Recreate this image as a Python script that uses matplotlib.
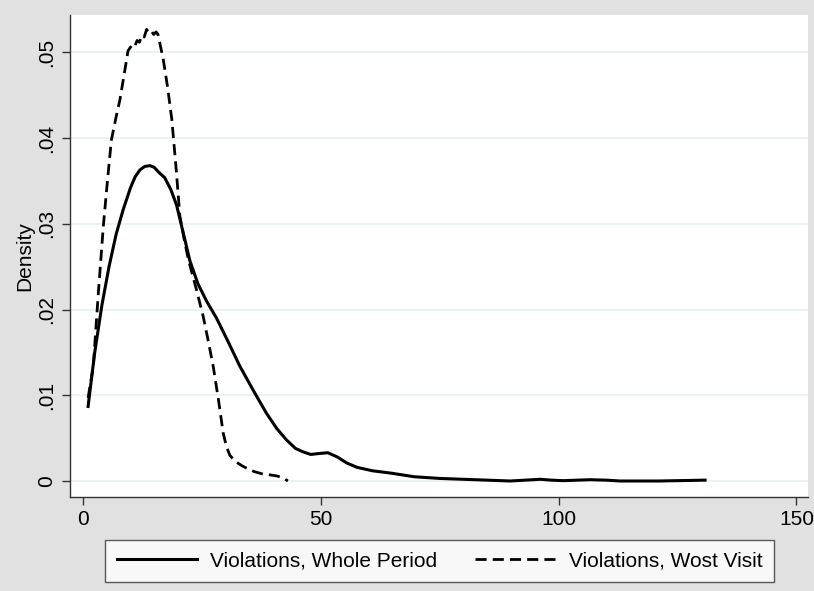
import matplotlib
matplotlib.use("Agg")
import matplotlib.pyplot as plt

# kernel density, violations over the whole period
whole_x = [1.1, 2.5, 4.0, 5.5, 7.0, 8.5, 10.0, 11.0, 12.0, 13.0, 14.1, 15.0, 16.0, 17.2, 18.5,
           19.7, 21.0, 22.5, 24.2, 26.0, 28.1, 30.5, 33.0, 35.8, 38.6, 40.8, 42.8, 44.7, 46.3,
           47.9, 49.5, 51.5, 53.5, 55.5, 57.6, 60.8, 65.0, 69.6, 75.0, 80.0, 85.0, 89.8, 93.0,
           96.2, 98.5, 101.0, 104.0, 106.7, 110.0, 113.0, 117.0, 121.0, 126.0, 130.8]
whole_y = [0.0087, 0.0150, 0.0205, 0.0250, 0.0288, 0.0317, 0.0342, 0.0355, 0.0363, 0.0367, 0.0368,
           0.0366, 0.0360, 0.0354, 0.0340, 0.0322, 0.0292, 0.0257, 0.0230, 0.0210, 0.0190, 0.0163,
           0.0134, 0.0106, 0.0079, 0.0061, 0.0048, 0.0038, 0.0034, 0.0031, 0.0032, 0.0033, 0.0028,
           0.0021, 0.0016, 0.0012, 0.0009, 0.0005, 0.0003, 0.0002, 0.0001, 0.0000, 0.0001, 0.0002,
           0.0001, 0.00004, 0.0001, 0.00015, 0.0001, 0.0000, 0.0000, 0.0000, 0.00005, 0.0001]

# kernel density, violations at the worst visit
worst_x = [1.1, 2.2, 3.2, 4.3, 5.2, 6.0, 7.0, 7.8, 8.7, 9.5, 10.0, 10.4, 10.9, 11.4, 11.9, 12.4,
           12.9, 13.4, 13.9, 14.4, 14.9, 15.4, 15.8, 16.9, 17.8, 18.7, 19.6, 20.4, 21.3, 22.2,
           23.8, 25.3, 26.3, 27.4, 28.5, 29.5, 30.2, 30.9, 32.0, 33.4, 34.4, 36.0, 37.9, 39.5,
           40.7, 42.0, 43.1]
worst_y = [0.0097, 0.0134, 0.0215, 0.0297, 0.0352, 0.0398, 0.0425, 0.0445, 0.0475, 0.0502, 0.0506,
           0.0509, 0.0507, 0.0514, 0.0512, 0.0520, 0.0518, 0.0527, 0.0523, 0.0525, 0.0521, 0.0524,
           0.0521, 0.0492, 0.0460, 0.0422, 0.0365, 0.0309, 0.0282, 0.0258, 0.0225, 0.0192, 0.0165,
           0.0134, 0.0095, 0.0056, 0.0040, 0.0030, 0.0023, 0.0018, 0.0015, 0.0011, 0.0008, 0.0007,
           0.0006, 0.0004, 0.0000]

labels = ["Violations, Whole Period", "Violations, Wost Visit"]
xticks = [0, 50, 100, 150]
yticks = [0, 0.01, 0.02, 0.03, 0.04, 0.05]
ytick_labels = ["0", ".01", ".02", ".03", ".04", ".05"]

plt.rcParams['font.family'] = ['Liberation Sans', 'DejaVu Sans']
bg = '#e1e1e1'

fig = plt.figure(figsize=(8.14, 5.91), dpi=100, facecolor=bg)
ax = fig.add_axes([0.086, 0.159, 0.907, 0.816])
ax.set_facecolor('white')

l1, = ax.plot(whole_x, whole_y, color='black', lw=2.2, solid_joinstyle='round')
l2, = ax.plot(worst_x, worst_y, color='black', lw=2.0, dashes=(4, 2.2))

ax.set_xlim(-2.7, 152.5)
ax.set_ylim(-0.00187, 0.0544)
ax.set_xticks(xticks)
ax.set_xticklabels([str(t) for t in xticks])
ax.set_yticks(yticks)
ax.set_yticklabels(ytick_labels, rotation=90, va='center')
ax.tick_params(axis='both', labelsize=15, length=6, width=1, direction='out', color='#333333')
ax.tick_params(axis='y', pad=4)
ax.grid(axis='y', color='#e8f0f2', lw=1.2)
ax.set_axisbelow(True)
for s in ['top', 'right']:
    ax.spines[s].set_visible(False)
for s in ['left', 'bottom']:
    ax.spines[s].set_color('#333333')
    ax.spines[s].set_linewidth(1.0)

ax.set_ylabel("Density", fontsize=15, labelpad=2)

leg = fig.legend([l1, l2], labels, loc='center', bbox_to_anchor=(0.540, 0.0508), ncol=2,
                 fontsize=15, frameon=True, fancybox=False, edgecolor='#333333',
                 handlelength=3.85, columnspacing=1.8, borderpad=0.55, handletextpad=0.65)
leg.get_frame().set_linewidth(1.0)

plt.savefig('out.png', dpi=100, facecolor=bg)
